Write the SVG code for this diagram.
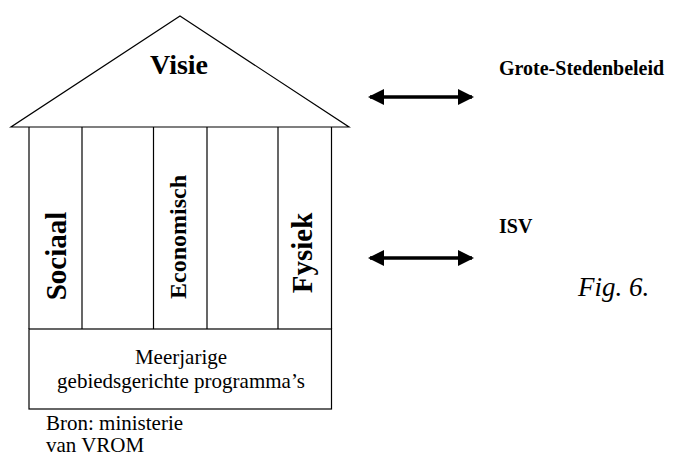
<svg xmlns="http://www.w3.org/2000/svg" width="677" height="454" viewBox="0 0 677 454">
<defs>
<style>
.ln{fill:none;stroke:#000;stroke-width:1.2}
.b{font-family:"Liberation Serif","Times New Roman",serif;font-weight:bold;fill:#000}
.r{font-family:"Liberation Serif","Times New Roman",serif;fill:#000}
.arr{stroke:#000;stroke-width:3.5;fill:none}
</style>
<marker id="ah" viewBox="0 0 16 16" refX="14" refY="8" markerWidth="16" markerHeight="16" markerUnits="userSpaceOnUse" orient="auto-start-reverse">
<path d="M0,0 L16,8 L0,16 Z" fill="#000"/>
</marker>
</defs>
<rect width="677" height="454" fill="#fff"/>
<g id="roof">
<polygon class="ln" points="180,16 349,127 11,127"/>
<text class="b" x="179" y="74" font-size="28" text-anchor="middle">Visie</text>
</g>
<g id="pillars">
<line class="ln" x1="29" y1="127" x2="29" y2="329"/>
<line class="ln" x1="82" y1="127" x2="82" y2="329"/>
<line class="ln" x1="153.5" y1="127" x2="153.5" y2="329"/>
<line class="ln" x1="207" y1="127" x2="207" y2="329"/>
<line class="ln" x1="278" y1="127" x2="278" y2="329"/>
<line class="ln" x1="331.5" y1="127" x2="331.5" y2="329"/>
</g>
<g id="sociaal">
<text class="b" font-size="29" text-anchor="middle" transform="translate(66,256) rotate(-90)">Sociaal</text>
</g>
<g id="economisch">
<text class="b" font-size="24" text-anchor="middle" transform="translate(186,237) rotate(-90)">Economisch</text>
</g>
<g id="fysiek">
<text class="b" font-size="29" text-anchor="middle" transform="translate(312,253) rotate(-90)">Fysiek</text>
</g>
<g id="base">
<rect class="ln" x="29" y="329" width="302.5" height="80"/>
<text class="r" x="181" y="364" font-size="21" text-anchor="middle">Meerjarige</text>
<text class="r" x="181" y="388" font-size="21" text-anchor="middle">gebiedsgerichte programma’s</text>
</g>
<g id="grote-steden">
<text class="b" x="499" y="75" font-size="20">Grote-Stedenbeleid</text>
</g>
<g id="isv">
<text class="b" x="499" y="233" font-size="20">ISV</text>
</g>
<g id="connectors">
<line class="arr" x1="370" y1="97" x2="472" y2="97" marker-start="url(#ah)" marker-end="url(#ah)"/>
<line class="arr" x1="370" y1="258" x2="472" y2="258" marker-start="url(#ah)" marker-end="url(#ah)"/>
</g>
<text class="r" x="46" y="430" font-size="21">Bron: ministerie</text>
<text class="r" x="46" y="452" font-size="21">van VROM</text>
<text class="r" x="578" y="296" font-size="27" font-style="italic">Fig. 6.</text>
</svg>
